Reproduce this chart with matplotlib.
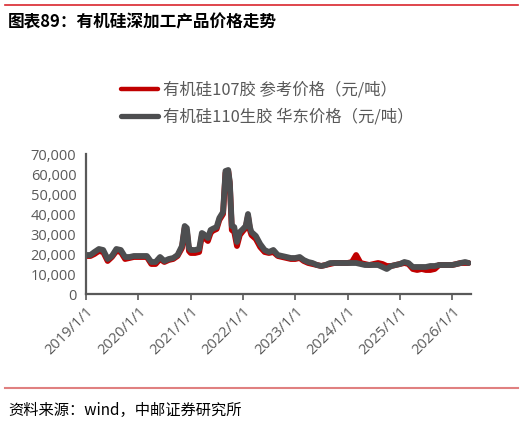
import matplotlib
matplotlib.use("Agg")
import matplotlib.pyplot as plt
import matplotlib.dates as mdates
from matplotlib.ticker import FuncFormatter
from matplotlib.lines import Line2D
import numpy as np
from datetime import datetime

plt.rcParams['font.family'] = ['Open Sans', 'Noto Sans CJK SC', 'DejaVu Sans']

dates = [
    "2019-01-01","2019-02-01","2019-03-01","2019-04-01","2019-05-01","2019-06-01","2019-07-01","2019-08-01",
    "2019-09-01","2019-10-01","2019-11-01","2019-12-01","2020-01-01","2020-02-01","2020-03-01","2020-04-01",
    "2020-05-01","2020-06-01","2020-07-01","2020-08-01","2020-09-01","2020-10-01","2020-11-01","2020-11-20",
    "2020-12-05","2020-12-20","2021-01-01","2021-02-01","2021-03-01","2021-03-20","2021-04-01","2021-05-01",
    "2021-05-20","2021-06-01","2021-07-01","2021-07-20","2021-08-15","2021-09-01","2021-09-20","2021-10-01",
    "2021-10-15","2021-11-01","2021-11-20","2021-12-10","2022-01-01","2022-01-20","2022-02-05","2022-02-20",
    "2022-03-01","2022-04-01","2022-05-01","2022-06-01","2022-07-01","2022-08-01","2022-09-01","2022-10-01",
    "2022-11-01","2022-12-01","2023-01-01","2023-02-01","2023-03-01","2023-04-01","2023-05-01","2023-06-01",
    "2023-07-01","2023-08-01","2023-09-01","2023-10-01","2023-11-01","2023-12-01","2024-01-01","2024-02-01",
    "2024-03-01","2024-04-01","2024-05-01","2024-06-01","2024-07-01","2024-08-01","2024-09-01","2024-10-01",
    "2024-11-01","2024-12-01","2025-01-01","2025-02-01","2025-03-01","2025-04-01","2025-05-01","2025-06-01",
    "2025-07-01","2025-08-01","2025-09-01","2025-10-01","2025-11-01","2025-12-01","2026-01-01","2026-02-01",
    "2026-03-01","2026-04-01","2026-04-25",
]

price_110 = [
    19500,19500,21000,22500,22000,17500,19000,22500,
    22000,18500,18500,19000,19000,19000,19000,16000,
    16000,18500,16500,17500,18000,19500,24000,34000,
    33000,23000,22000,22000,22500,30500,30000,28000,
    32000,32500,33500,38000,41000,61500,62000,56000,
    34000,33500,26000,31000,32500,34000,40000,33000,
    31000,29000,25000,22000,21000,22000,19500,19000,
    18500,18000,18000,18500,17000,16000,15500,14500,
    14000,14500,15500,15500,15500,15500,15500,15500,
    15500,15000,14500,14500,14500,14500,13500,12500,
    14000,14500,15000,16000,15500,13500,13500,13500,
    13500,14000,14000,14500,14500,14500,14500,15000,
    15500,16000,15500,
]

price_107 = [
    19000,19000,20000,21500,21000,16500,18500,21500,
    21000,17500,18000,18500,18500,18500,18500,15000,
    15000,17500,16000,17000,17500,19000,23000,33000,
    31500,21500,20500,20500,21000,29000,28500,26500,
    30500,31500,32500,37000,40000,60500,61500,55000,
    32000,31000,24000,29500,31500,33000,39000,31500,
    29500,27500,23500,21000,20500,21000,19000,18500,
    18000,17500,17500,18000,16500,15500,15000,14500,
    14000,14500,15000,15500,15500,15500,15500,16000,
    19500,15500,15000,14500,15000,15500,15000,14000,
    14000,14500,15000,15500,15000,12500,12000,12500,
    12000,12000,12500,14500,14500,14500,14500,15000,
    15500,15500,15500,
]

legend_labels = ["有机硅107胶 参考价格（元/吨）", "有机硅110生胶 华东价格（元/吨）"]
tick_years = [2019, 2020, 2021, 2022, 2023, 2024, 2025, 2026]
title = "图表89：有机硅深加工产品价格走势"
source = "资料来源：wind，中邮证券研究所"

x = [datetime.strptime(d, "%Y-%m-%d") for d in dates]

fig = plt.figure(figsize=(5.25, 4.24), dpi=100)
ax = fig.add_axes([86/525, 1-294/424, (471-86)/525, (294-154)/424])

red = "#c00000"
gray = "#4d4e50"
ax.plot(x, price_107, color=red, lw=4.2, solid_capstyle='round', solid_joinstyle='round')
ax.plot(x, price_110, color=gray, lw=4.2, solid_capstyle='round', solid_joinstyle='round')

ax.set_ylim(0, 70000)
ax.set_yticks(np.arange(0, 70001, 10000))
ax.yaxis.set_major_formatter(FuncFormatter(lambda v, p: f"{int(v):,}"))
ax.set_xlim(datetime(2019, 1, 1), datetime(2026, 5, 12))
ax.set_xticks([datetime(y, 1, 1) for y in tick_years])
ax.set_xticklabels([f"{y}/1/1" for y in tick_years], rotation=45, ha='right', va='top',
                   rotation_mode='anchor')

for s in ['top', 'right']:
    ax.spines[s].set_visible(False)
for s in ['left', 'bottom']:
    ax.spines[s].set_color("#595959")
    ax.spines[s].set_linewidth(1.6)
ax.tick_params(axis='y', length=0, labelsize=10.5, labelcolor="#595959", pad=7)
ax.tick_params(axis='x', length=4, width=1.2, color="#595959", labelsize=10.5,
               labelcolor="#595959", pad=3)

handles = [Line2D([0], [0], color=red, lw=3.2, solid_capstyle='round'),
           Line2D([0], [0], color=gray, lw=3.8, solid_capstyle='round')]
fig.legend(handles, legend_labels, loc='upper left', bbox_to_anchor=(106/525, 1-67/424),
           frameon=False, labelcolor="#595959", handlelength=2.3,
           handletextpad=0.3, labelspacing=0.6,
           prop={'family': ['Noto Sans CJK SC'], 'size': 11.8})

fig.text(8/525, 1-22/424, title, fontsize=12, fontweight='bold', va='center', ha='left',
         family=['Noto Sans CJK SC'], color='black')
fig.text(8/525, 1-410/424, source, fontsize=11, va='center', ha='left',
         family=['Noto Sans CJK SC', 'DejaVu Sans'], color='black')

fig.add_artist(Line2D([5/525, 518/525], [1-5/424, 1-5/424], color="#d9262e", lw=1.2,
                      transform=fig.transFigure))
fig.add_artist(Line2D([5/525, 518/525], [1-388/424, 1-388/424], color="#e08080", lw=1.5,
                      transform=fig.transFigure))

fig.savefig("out.png", dpi=100)
